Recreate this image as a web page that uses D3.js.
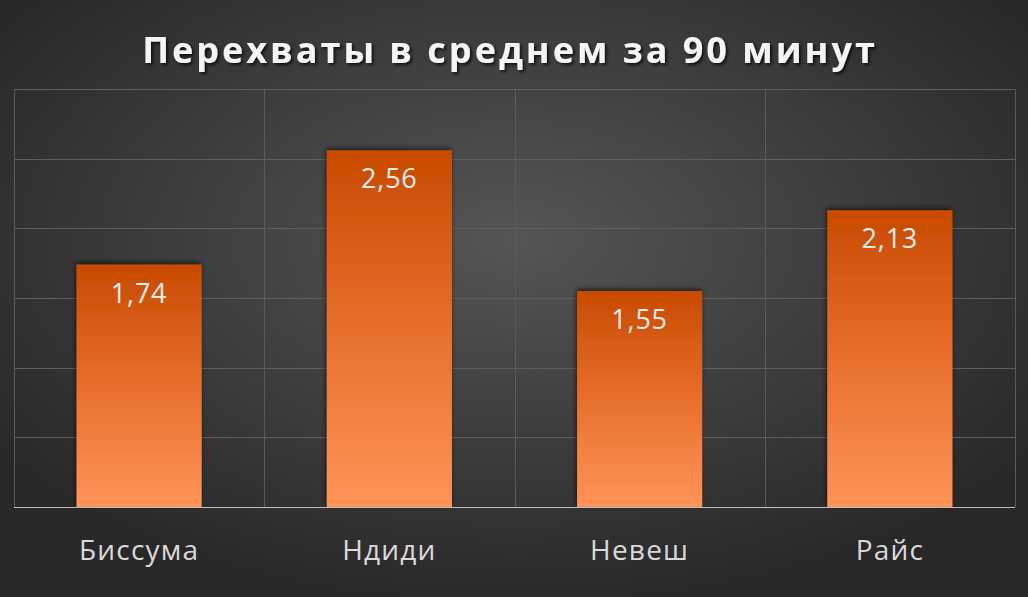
<!DOCTYPE html>
<html>
<head>
<meta charset="utf-8">
<script src="https://cdn.jsdelivr.net/npm/d3@7"></script>
<style>
  html, body { margin: 0; padding: 0; background: #333; }
  svg { display: block; }
</style>
</head>
<body>
<svg id="chart" width="1028" height="597"></svg>
<script>
// data
const players = ['Биссума', 'Ндиди', 'Невеш', 'Райс'];
const interceptions = [1.74, 2.56, 1.55, 2.13];
const valueLabels = ['1,74', '2,56', '1,55', '2,13'];
const yTicks = [0, 0.5, 1, 1.5, 2, 2.5, 3];
const titleText = 'Перехваты в среднем за 90 минут';

const width = 1028, height = 597;
const margin = {top: 89, right: 13, bottom: 90, left: 14};
const innerWidth = width - margin.left - margin.right;
const innerHeight = height - margin.top - margin.bottom;

const svg = d3.select('#chart');
const defs = svg.append('defs');

// background radial gradient
const bg = defs.append('radialGradient')
  .attr('id', 'bgGrad')
  .attr('cx', '50%').attr('cy', '40%').attr('r', '62%');
bg.append('stop').attr('offset', '0%').attr('stop-color', '#555555');
bg.append('stop').attr('offset', '100%').attr('stop-color', '#282828');

// bar gradient (dark top, light bottom)
const barGrad = defs.append('linearGradient')
  .attr('id', 'barGrad')
  .attr('x1', 0).attr('y1', 0).attr('x2', 0).attr('y2', 1);
barGrad.append('stop').attr('offset', '0%').attr('stop-color', '#C84A00');
barGrad.append('stop').attr('offset', '45%').attr('stop-color', '#E56B28');
barGrad.append('stop').attr('offset', '100%').attr('stop-color', '#FF9459');

// bar shadow
const shadow = defs.append('filter').attr('id', 'barShadow')
  .attr('x', '-10%').attr('y', '-10%').attr('width', '120%').attr('height', '120%');
shadow.append('feDropShadow')
  .attr('dx', -1).attr('dy', -2).attr('stdDeviation', 2.5)
  .attr('flood-color', '#000').attr('flood-opacity', 0.6);

const titleShadow = defs.append('filter').attr('id', 'titleShadow');
titleShadow.append('feDropShadow')
  .attr('dx', 2).attr('dy', 2).attr('stdDeviation', 1.5)
  .attr('flood-color', '#000').attr('flood-opacity', 0.7);

svg.append('rect')
  .attr('width', width).attr('height', height)
  .attr('fill', 'url(#bgGrad)');

// title
svg.append('text')
  .attr('x', width / 2 - 4)
  .attr('y', 63)
  .attr('text-anchor', 'middle')
  .attr('fill', '#f5f5f5')
  .attr('font-family', '"Open Sans", sans-serif')
  .attr('font-weight', 'bold')
  .attr('font-size', 36)
  .attr('letter-spacing', 3)
  .attr('filter', 'url(#titleShadow)')
  .text(titleText);

const g = svg.append('g')
  .attr('transform', `translate(${margin.left},${margin.top})`);

// scales
const xScale = d3.scaleBand()
  .domain(players)
  .range([0, innerWidth])
  .paddingInner(0.5)
  .paddingOuter(0.25);
const yScale = d3.scaleLinear()
  .domain([0, 3])
  .range([innerHeight, 0]);

// horizontal gridlines
g.append('g')
  .selectAll('line')
  .data(yTicks.slice(1))
  .join('line')
  .attr('x1', 0).attr('x2', innerWidth)
  .attr('y1', d => Math.round(yScale(d)) + 0.5)
  .attr('y2', d => Math.round(yScale(d)) + 0.5)
  .attr('stroke', '#5e5e5e')
  .attr('stroke-width', 1);

// vertical gridlines at category boundaries
const bounds = d3.range(players.length + 1).map(i => i * innerWidth / players.length);
g.append('g')
  .selectAll('line')
  .data(bounds)
  .join('line')
  .attr('x1', d => Math.round(d) + 0.5).attr('x2', d => Math.round(d) + 0.5)
  .attr('y1', 0).attr('y2', innerHeight)
  .attr('stroke', '#5a5a5a')
  .attr('stroke-width', 1);

// bars
g.append('g')
  .selectAll('rect')
  .data(interceptions)
  .join('rect')
  .attr('x', (d, i) => xScale(players[i]))
  .attr('y', d => yScale(d))
  .attr('width', xScale.bandwidth())
  .attr('height', d => innerHeight - yScale(d))
  .attr('fill', 'url(#barGrad)')
  .attr('filter', 'url(#barShadow)');

// baseline
g.append('line')
  .attr('x1', 0).attr('x2', innerWidth)
  .attr('y1', innerHeight + 0.5).attr('y2', innerHeight + 0.5)
  .attr('stroke', '#bdbdbd')
  .attr('stroke-width', 1.2);

// value labels
g.append('g')
  .selectAll('text')
  .data(interceptions)
  .join('text')
  .attr('x', (d, i) => xScale(players[i]) + xScale.bandwidth() / 2)
  .attr('y', d => yScale(d) + 38)
  .attr('text-anchor', 'middle')
  .attr('fill', '#ececec')
  .attr('font-family', '"Open Sans", sans-serif')
  .attr('font-size', 27)
  .attr('letter-spacing', 0.8)
  .text((d, i) => valueLabels[i]);

// x axis labels
const xAxis = g.append('g')
  .attr('transform', `translate(0,${innerHeight})`)
  .call(d3.axisBottom(xScale).tickSize(0).tickPadding(0));
xAxis.select('.domain').remove();
xAxis.selectAll('text')
  .attr('dy', 0)
  .attr('y', 53)
  .attr('fill', '#d9d9d9')
  .attr('font-family', '"Open Sans", sans-serif')
  .attr('font-size', 28)
  .attr('letter-spacing', 1.2);
</script>
</body>
</html>
